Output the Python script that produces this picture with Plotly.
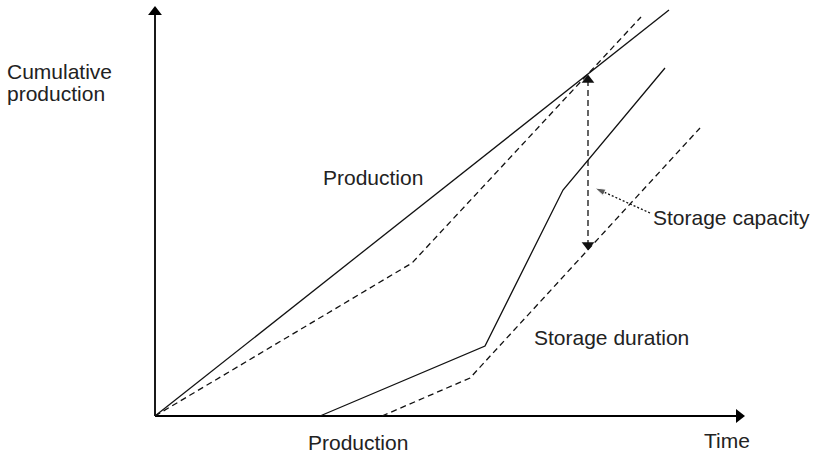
import plotly.graph_objects as go

# ---- data (time / cumulative units; origin at axes crossing) ----
prod_t = [0, 514]
prod_c = [0, 406]

prod_dash_t = [0, 257, 486]
prod_dash_c = [0, 153, 399]

stor_t = [165, 330, 408, 510]
stor_c = [0, 70, 226, 348]

stor_dash_t = [227, 315, 545]
stor_dash_c = [0, 38, 288]

cap_t = [433, 433]
cap_c = [336, 171]

pointer_t = [495, 440]
pointer_c = [203, 228]

x_axis_end = 584
y_axis_end = 404

LINE = "#111111"
FONT = dict(family="Liberation Sans, Arial, Helvetica, sans-serif", size=21, color="#222222")

fig = go.Figure()

# axes with arrowheads
fig.add_trace(go.Scatter(x=[0, x_axis_end], y=[0, 0], mode="lines",
                         line=dict(color="#000", width=1.8), hoverinfo="skip"))
fig.add_trace(go.Scatter(x=[0, 0], y=[0, y_axis_end], mode="lines",
                         line=dict(color="#000", width=1.8), hoverinfo="skip"))
fig.add_trace(go.Scatter(x=[x_axis_end, 0], y=[0, y_axis_end], mode="markers",
                         marker=dict(symbol=["triangle-right", "triangle-up"], size=12, color="#000",
                                     line=dict(width=0)),
                         hoverinfo="skip"))

fig.add_trace(go.Scatter(x=prod_t, y=prod_c, mode="lines", line=dict(color=LINE, width=1.3)))
fig.add_trace(go.Scatter(x=prod_dash_t, y=prod_dash_c, mode="lines",
                         line=dict(color=LINE, width=1.3, dash="6px,4px")))
fig.add_trace(go.Scatter(x=stor_t, y=stor_c, mode="lines", line=dict(color=LINE, width=1.3)))
fig.add_trace(go.Scatter(x=stor_dash_t, y=stor_dash_c, mode="lines",
                         line=dict(color=LINE, width=1.3, dash="6px,4px")))

# storage capacity double arrow
fig.add_trace(go.Scatter(x=cap_t, y=cap_c, mode="lines",
                         line=dict(color=LINE, width=1.3, dash="6px,4px")))
fig.add_trace(go.Scatter(x=cap_t, y=cap_c, mode="markers",
                         marker=dict(symbol=["triangle-up", "triangle-down"], size=11, color=LINE)))

# dotted pointer
fig.add_trace(go.Scatter(x=pointer_t, y=pointer_c, mode="lines+markers",
                         line=dict(color=LINE, width=1.3, dash="2px,2px"),
                         marker=dict(symbol="arrow", size=[0, 11], angleref="previous", color=LINE)))

ann = [
    dict(x=218, y=239, text="Production"),
    dict(x=456, y=79, text="Storage duration"),
    dict(x=576, y=199, text="Storage capacity"),
    dict(x=203, y=-26, text="Production"),
    dict(x=572, y=-24, text="Time"),
    dict(x=-150, y=345, text="Cumulative", xanchor="left"),
    dict(x=-150, y=323, text="production", xanchor="left"),
]
for a in ann:
    fig.add_annotation(x=a["x"], y=a["y"], text=a["text"], showarrow=False,
                       xref="x", yref="y", font=FONT,
                       xanchor=a.get("xanchor", "center"))

fig.update_layout(
    width=819, height=455,
    margin=dict(l=0, r=0, t=0, b=0),
    paper_bgcolor="white", plot_bgcolor="white",
    showlegend=False,
    xaxis=dict(range=[-155, 664], visible=False, fixedrange=True),
    yaxis=dict(range=[-39, 416], visible=False, fixedrange=True),
)

fig.write_html("out.html", config={"displayModeBar": False},
               post_script="document.body.style.margin='0';document.body.style.overflow='hidden';")
